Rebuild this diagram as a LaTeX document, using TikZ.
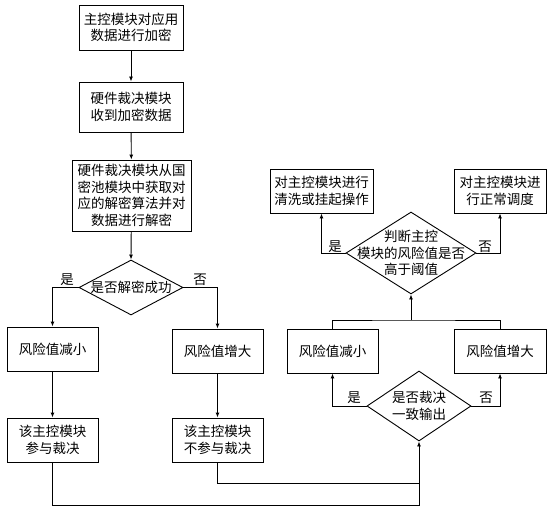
\documentclass[tikz,border=0pt]{standalone}
\usepackage{fontspec}
\setmainfont{Noto Sans CJK SC}
\usetikzlibrary{shapes.geometric,arrows.meta}
\begin{document}
\begin{tikzpicture}[x=1pt,y=-1pt,
  every node/.style={font=\fontsize{13.5pt}{16.5pt}\selectfont},
  box/.style={draw,line width=0.9pt,rectangle,align=center,inner sep=0pt},
  dia/.style={draw,line width=0.9pt,diamond,inner sep=0pt},
  lbl/.style={inner sep=0pt},
  conn/.style={line width=0.9pt},
  arr/.style={line width=0.9pt,-{Latex[length=5pt,width=4pt]}}]
\useasboundingbox (0,0) rectangle (557,511);
\node[box,minimum width=104pt,minimum height=45pt] (b1) at (131,27.5) {主控模块对应用\\数据进行加密};
\node[box,minimum width=104pt,minimum height=50pt] (b2) at (131,107) {硬件裁决模块\\收到加密数据};
\node[box,minimum width=119pt,minimum height=71pt] (b3) at (131.5,195.5) {硬件裁决模块从国\\密池模块中获取对\\应的解密算法并对\\数据进行解密};
\node[dia,minimum width=104pt,minimum height=55pt,label={[align=center]center:是否解密成功}] (d1) at (131,287.5) {};
\node[box,minimum width=91pt,minimum height=44pt] (l1) at (52.5,349) {风险值减小};
\node[box,minimum width=91pt,minimum height=44pt] (r1) at (217.5,351) {风险值增大};
\node[box,minimum width=91pt,minimum height=44pt] (l2) at (52.5,440) {该主控模块\\参与裁决};
\node[box,minimum width=91pt,minimum height=44pt] (r2) at (217.5,440) {该主控模块\\不参与裁决};
\node[box,minimum width=103pt,minimum height=44pt] (t1) at (321.5,191) {对主控模块进行\\清洗或挂起操作};
\node[box,minimum width=92pt,minimum height=44pt] (t2) at (500,191) {对主控模块进\\行正常调度};
\node[dia,minimum width=130pt,minimum height=82pt,label={[align=center]center:判断主控\\模块的风险值是否\\高于阈值}] (d2) at (411,253) {};
\node[box,minimum width=91pt,minimum height=44pt] (m1) at (332.5,351) {风险值减小};
\node[box,minimum width=92pt,minimum height=44pt] (m2) at (500,351) {风险值增大};
\node[dia,minimum width=104pt,minimum height=70pt,label={[align=center]center:是否裁决\\一致输出}] (d3) at (419,406) {};
\coordinate (jb) at (419,505);
\coordinate (jr) at (419,483);
\coordinate (jt) at (411,320);
\draw[arr] (b1) -- (b2);
\draw[arr] (b2) -- (b3);
\draw[arr] (b3) -- (d1.north);
\draw[arr] (d1.west) -| (l1.north);
\draw[arr] (d1.east) -| (r1.north);
\node[lbl] (y1) at (67,280) {是};
\node[lbl] (n1) at (200,280) {否};
\draw[arr] (l1) -- (l2);
\draw[arr] (r1) -- (r2);
\draw[conn] (r2.south) |- (jr);
\draw[arr] (l2.south) |- (jb) -- (d3.south);
\draw[arr] (d3.west) -| (m1.south);
\draw[arr] (d3.east) -| (m2.south);
\node[lbl] (y3) at (354,398) {是};
\node[lbl] (n3) at (486,398) {否};
\draw[conn] (m1.north) |- (jt) -| (m2.north);
\draw[arr] (jt) -- (d2.south);
\draw[arr] (d2.west) -| (t1.south);
\draw[arr] (d2.east) -| (t2.south);
\node[lbl] (y2) at (335,247) {是};
\node[lbl] (n2) at (485,247) {否};
\end{tikzpicture}
\end{document}
